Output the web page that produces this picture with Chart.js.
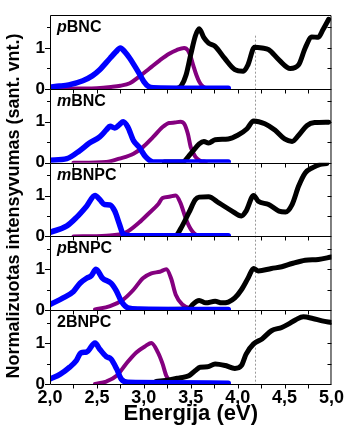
<!DOCTYPE html>
<html>
<head>
<meta charset="utf-8">
<script src="https://cdn.jsdelivr.net/npm/chart.js@4"></script>
<style>
  html, body { margin: 0; padding: 0; background: #fff; }
</style>
</head>
<body>
<canvas id="myChart" width="347" height="427"></canvas>
<script>
// panel names, top to bottom (italic prefix + upright rest)
const panelItalic = ['p', 'm', 'm', 'p', ''];
const panelRest = ['BNC', 'BNC', 'BNPC', 'BNPC', '2BNPC'];

// x tick labels
const xTicks = [2.0, 2.5, 3.0, 3.5, 4.0, 4.5, 5.0];
const markE = 4.18;

// pBNC
const pBNC_blueE = [2.0, 2.1, 2.2, 2.35, 2.45, 2.53, 2.64, 2.7, 2.75, 2.8, 2.85, 2.9, 2.95, 3.0, 3.05, 3.1, 3.5, 3.9];
const pBNC_blueI = [0.05, 0.07, 0.1, 0.2, 0.32, 0.47, 0.75, 0.9, 1.0, 0.9, 0.75, 0.57, 0.38, 0.18, 0.06, 0.03, 0.02, 0.02];
const pBNC_purpleE = [2.05, 2.3, 2.5, 2.65, 2.75, 2.85, 2.95, 3.06, 3.17, 3.27, 3.35, 3.43, 3.47, 3.5, 3.53, 3.56, 3.59, 3.62, 3.66];
const pBNC_purpleI = [0.0, 0.01, 0.02, 0.05, 0.08, 0.14, 0.3, 0.5, 0.7, 0.86, 0.95, 1.0, 0.94, 0.78, 0.55, 0.34, 0.18, 0.08, 0.02];
const pBNC_blackE = [3.22, 3.35, 3.4, 3.45, 3.5, 3.55, 3.59, 3.64, 3.69, 3.76, 3.86, 3.97, 4.06, 4.11, 4.18, 4.26, 4.33, 4.44, 4.56, 4.65, 4.72, 4.79, 4.86, 4.91, 4.97];
const pBNC_blackI = [0.0, 0.01, 0.08, 0.34, 0.84, 1.3, 1.47, 1.25, 1.12, 1.04, 0.75, 0.47, 0.43, 0.59, 1.02, 1.0, 0.96, 0.71, 0.5, 0.59, 1.0, 1.27, 1.26, 1.45, 1.7];

// mBNC
const mBNC_blueE = [2.0, 2.18, 2.32, 2.42, 2.53, 2.6, 2.64, 2.69, 2.74, 2.78, 2.83, 2.89, 2.95, 3.02, 3.1, 3.5, 3.9];
const mBNC_blueI = [0.06, 0.1, 0.3, 0.48, 0.63, 0.8, 0.89, 0.85, 0.93, 1.0, 0.87, 0.54, 0.38, 0.14, 0.02, 0.02, 0.02];
const mBNC_purpleE = [2.25, 2.6, 2.74, 2.89, 2.99, 3.1, 3.2, 3.27, 3.33, 3.39, 3.43, 3.47, 3.5, 3.55, 3.6, 3.66];
const mBNC_purpleI = [0.0, 0.02, 0.1, 0.22, 0.38, 0.63, 0.87, 0.97, 0.98, 1.0, 0.95, 0.7, 0.38, 0.14, 0.05, 0.02];
const mBNC_blackE = [3.22, 3.41, 3.5, 3.59, 3.64, 3.69, 3.76, 3.9, 4.0, 4.1, 4.17, 4.29, 4.4, 4.5, 4.58, 4.65, 4.74, 4.82, 4.97];
const mBNC_blackI = [0.02, 0.02, 0.22, 0.46, 0.52, 0.48, 0.56, 0.58, 0.67, 0.83, 1.02, 0.95, 0.79, 0.58, 0.52, 0.67, 0.91, 0.98, 0.99];

// mBNPC
const mBNPC_blueE = [2.0, 2.18, 2.28, 2.39, 2.48, 2.53, 2.58, 2.64, 2.69, 2.74, 2.78, 2.85, 3.3, 3.9];
const mBNPC_blueI = [0.1, 0.26, 0.46, 0.74, 1.0, 0.9, 0.78, 0.77, 0.62, 0.3, 0.06, 0.02, 0.02, 0.02];
const mBNPC_purpleE = [2.25, 2.6, 2.81, 2.95, 3.06, 3.15, 3.2, 3.27, 3.34, 3.39, 3.45, 3.5, 3.57, 3.66];
const mBNPC_purpleI = [0.0, 0.02, 0.1, 0.34, 0.58, 0.78, 0.94, 0.97, 1.0, 0.82, 0.42, 0.18, 0.03, 0.02];
const mBNPC_blackE = [3.22, 3.34, 3.39, 3.48, 3.55, 3.59, 3.69, 3.8, 3.94, 4.04, 4.09, 4.17, 4.22, 4.33, 4.44, 4.51, 4.58, 4.65, 4.72, 4.8, 4.88, 4.95];
const mBNPC_blackI = [0.02, 0.02, 0.18, 0.58, 0.9, 0.96, 0.97, 0.82, 0.62, 0.5, 0.62, 1.0, 0.86, 0.78, 0.62, 0.6, 0.78, 1.23, 1.55, 1.68, 1.76, 1.78];

// pBNPC
const pBNPC_blueE = [2.0, 2.14, 2.25, 2.32, 2.39, 2.44, 2.49, 2.56, 2.65, 2.71, 2.76, 2.83, 2.95, 3.5, 3.9];
const pBNPC_blueI = [0.14, 0.3, 0.46, 0.66, 0.78, 0.84, 1.0, 0.78, 0.66, 0.46, 0.22, 0.06, 0.03, 0.02, 0.02];
const pBNPC_purpleE = [2.48, 2.64, 2.78, 2.89, 2.99, 3.08, 3.17, 3.24, 3.29, 3.34, 3.41, 3.52, 3.62];
const pBNPC_purpleI = [0.02, 0.1, 0.26, 0.5, 0.78, 0.9, 0.94, 1.0, 0.78, 0.38, 0.14, 0.04, 0.02];
const pBNPC_blackE = [3.13, 3.48, 3.52, 3.59, 3.66, 3.76, 3.83, 3.9, 3.97, 4.04, 4.11, 4.17, 4.22, 4.36, 4.47, 4.58, 4.72, 4.86, 5.0];
const pBNPC_blackI = [0.02, 0.03, 0.14, 0.24, 0.18, 0.22, 0.18, 0.2, 0.3, 0.5, 0.78, 1.02, 0.96, 1.02, 1.06, 1.14, 1.22, 1.24, 1.3];

// 2BNPC
const BNPC2_blueE = [2.0, 2.11, 2.21, 2.28, 2.33, 2.39, 2.48, 2.53, 2.6, 2.65, 2.71, 2.76, 2.83, 3.3, 3.9];
const BNPC2_blueI = [0.12, 0.24, 0.41, 0.57, 0.76, 0.78, 1.0, 0.85, 0.67, 0.61, 0.37, 0.12, 0.04, 0.03, 0.02];
const BNPC2_purpleE = [2.48, 2.6, 2.71, 2.81, 2.92, 3.02, 3.08, 3.15, 3.2, 3.24, 3.31, 3.45, 3.59];
const BNPC2_purpleI = [0.0, 0.06, 0.2, 0.49, 0.77, 0.93, 1.0, 0.77, 0.49, 0.2, 0.04, 0.02, 0.02];
const BNPC2_blackE = [3.13, 3.27, 3.38, 3.48, 3.55, 3.6, 3.68, 3.76, 3.87, 3.97, 4.04, 4.09, 4.17, 4.26, 4.36, 4.47, 4.54, 4.62, 4.7, 4.8, 4.9, 5.0];
const BNPC2_blackI = [0.06, 0.1, 0.15, 0.2, 0.33, 0.41, 0.42, 0.49, 0.45, 0.38, 0.45, 0.73, 0.98, 1.1, 1.3, 1.38, 1.46, 1.57, 1.64, 1.6, 1.54, 1.5];

const series = [
  [[pBNC_blueE, pBNC_blueI], [pBNC_blackE, pBNC_blackI], [pBNC_purpleE, pBNC_purpleI]],
  [[mBNC_blueE, mBNC_blueI], [mBNC_blackE, mBNC_blackI], [mBNC_purpleE, mBNC_purpleI]],
  [[mBNPC_blueE, mBNPC_blueI], [mBNPC_blackE, mBNPC_blackI], [mBNPC_purpleE, mBNPC_purpleI]],
  [[pBNPC_blueE, pBNPC_blueI], [pBNPC_blackE, pBNPC_blackI], [pBNPC_purpleE, pBNPC_purpleI]],
  [[BNPC2_blueE, BNPC2_blueI], [BNPC2_blackE, BNPC2_blackI], [BNPC2_purpleE, BNPC2_purpleI]]
];
const colors = ['#0000ff', '#000000', '#84007f'];
const widths = [5.5, 5, 4];

const FONT = '"Liberation Sans", Arial, sans-serif';

const datasets = [];
series.forEach((panel, k) => {
  panel.forEach(([es, is], j) => {
    datasets.push({
      yAxisID: 'y' + k,
      data: es.map((e, i) => ({ x: e, y: is[i] })),
      borderColor: colors[j],
      borderWidth: widths[j],
      borderCapStyle: 'round',
      borderJoinStyle: 'round',
      pointRadius: 0,
      cubicInterpolationMode: 'monotone',
      fill: false
    });
  });
});

const scales = {
  x: {
    type: 'linear', min: 2, max: 5,
    afterFit: s => { s.height = 43; },
    afterBuildTicks: s => { s.ticks = xTicks.map(v => ({ value: v })); },
    grid: { display: false, drawTicks: false },
    border: { display: false },
    ticks: {
      padding: 3,
      color: '#000',
      font: { family: FONT, size: 18, weight: 'bold' },
      callback: v => v.toFixed(1).replace('.', ',')
    },
    title: {
      display: true, text: 'Energija (eV)', color: '#000',
      padding: { top: 0, bottom: 0 },
      font: { family: FONT, size: 22, weight: 'bold' }
    }
  }
};
for (let k = 0; k < 5; k++) {
  scales['y' + k] = {
    type: 'linear', position: 'left', stack: 'panels', stackWeight: 1, weight: 5 - k,
    min: 0, max: 1.8,
    afterFit: s => { s.width = 50; },
    afterBuildTicks: s => { s.ticks = [{ value: 0 }, { value: 1 }]; },
    grid: { display: false, drawTicks: false },
    border: { display: false },
    ticks: {
      padding: 5,
      color: '#000',
      font: { family: FONT, size: 17, weight: 'bold' },
      callback: v => String(v)
    }
  };
}

const frame = {
  id: 'frame',
  beforeDatasetsDraw(chart) {
    const ctx = chart.ctx;
    const px = Math.round(chart.scales.x.getPixelForValue(markE)) + 0.5;
    ctx.save();
    ctx.strokeStyle = '#9a9a9a';
    ctx.lineWidth = 1;
    ctx.setLineDash([2, 2]);
    ctx.beginPath();
    ctx.moveTo(px, chart.scales.y0.getPixelForValue(1.3));
    ctx.lineTo(px, chart.scales.y4.bottom);
    ctx.stroke();
    ctx.restore();
  },
  afterDatasetsDraw(chart) {
    const ctx = chart.ctx;
    const x = chart.scales.x;
    const L = x.left, R = x.right;
    ctx.save();
    ctx.strokeStyle = '#000';
    ctx.fillStyle = '#000';
    ctx.lineWidth = 1;
    for (let k = 0; k < 5; k++) {
      const y = chart.scales['y' + k];
      const T = Math.round(y.top) + 0.5, B = Math.round(y.bottom) + 0.5;
      ctx.beginPath();
      ctx.rect(L + 0.5, T, R - L - 1, B - T);
      ctx.stroke();
      ctx.beginPath();
      // y ticks: outward on the left, inward on the right
      [0, 0.5, 1, 1.5].forEach(v => {
        const py = Math.round(y.getPixelForValue(v)) + 0.5;
        const len = (v % 1 === 0) ? 5 : 3;
        ctx.moveTo(L, py); ctx.lineTo(L - len, py);
        ctx.moveTo(R, py); ctx.lineTo(R - 4, py);
      });
      // x ticks hanging below each panel
      for (let e = 2.25; e < 5; e += 0.25) {
        const pxx = Math.round(x.getPixelForValue(e)) + 0.5;
        ctx.moveTo(pxx, B); ctx.lineTo(pxx, B + 4);
      }
      ctx.stroke();
      // panel name
      ctx.textBaseline = 'alphabetic';
      ctx.textAlign = 'left';
      let tx = L + 7;
      const ty = y.top + 17;
      if (panelItalic[k]) {
        ctx.font = 'italic bold 16px ' + FONT;
        ctx.fillText(panelItalic[k], tx, ty);
        tx += ctx.measureText(panelItalic[k]).width;
      }
      ctx.font = 'bold 16px ' + FONT;
      ctx.fillText(panelRest[k], tx, ty);
    }
    // shared y title
    ctx.translate(14.5, 206);
    ctx.rotate(-Math.PI / 2);
    ctx.textAlign = 'center';
    ctx.textBaseline = 'middle';
    ctx.font = 'bold 18px ' + FONT;
    ctx.fillText('Normalizuotas intensyvumas (sant. vnt.)', 0, 0);
    ctx.restore();
  }
};

new Chart(document.getElementById('myChart'), {
  type: 'line',
  data: { datasets: datasets },
  options: {
    responsive: false,
    animation: false,
    devicePixelRatio: 1,
    layout: { padding: { top: 10, right: 14, left: 0, bottom: 0 } },
    plugins: { legend: { display: false }, tooltip: { enabled: false } },
    scales: scales
  },
  plugins: [frame]
});
</script>
</body>
</html>
